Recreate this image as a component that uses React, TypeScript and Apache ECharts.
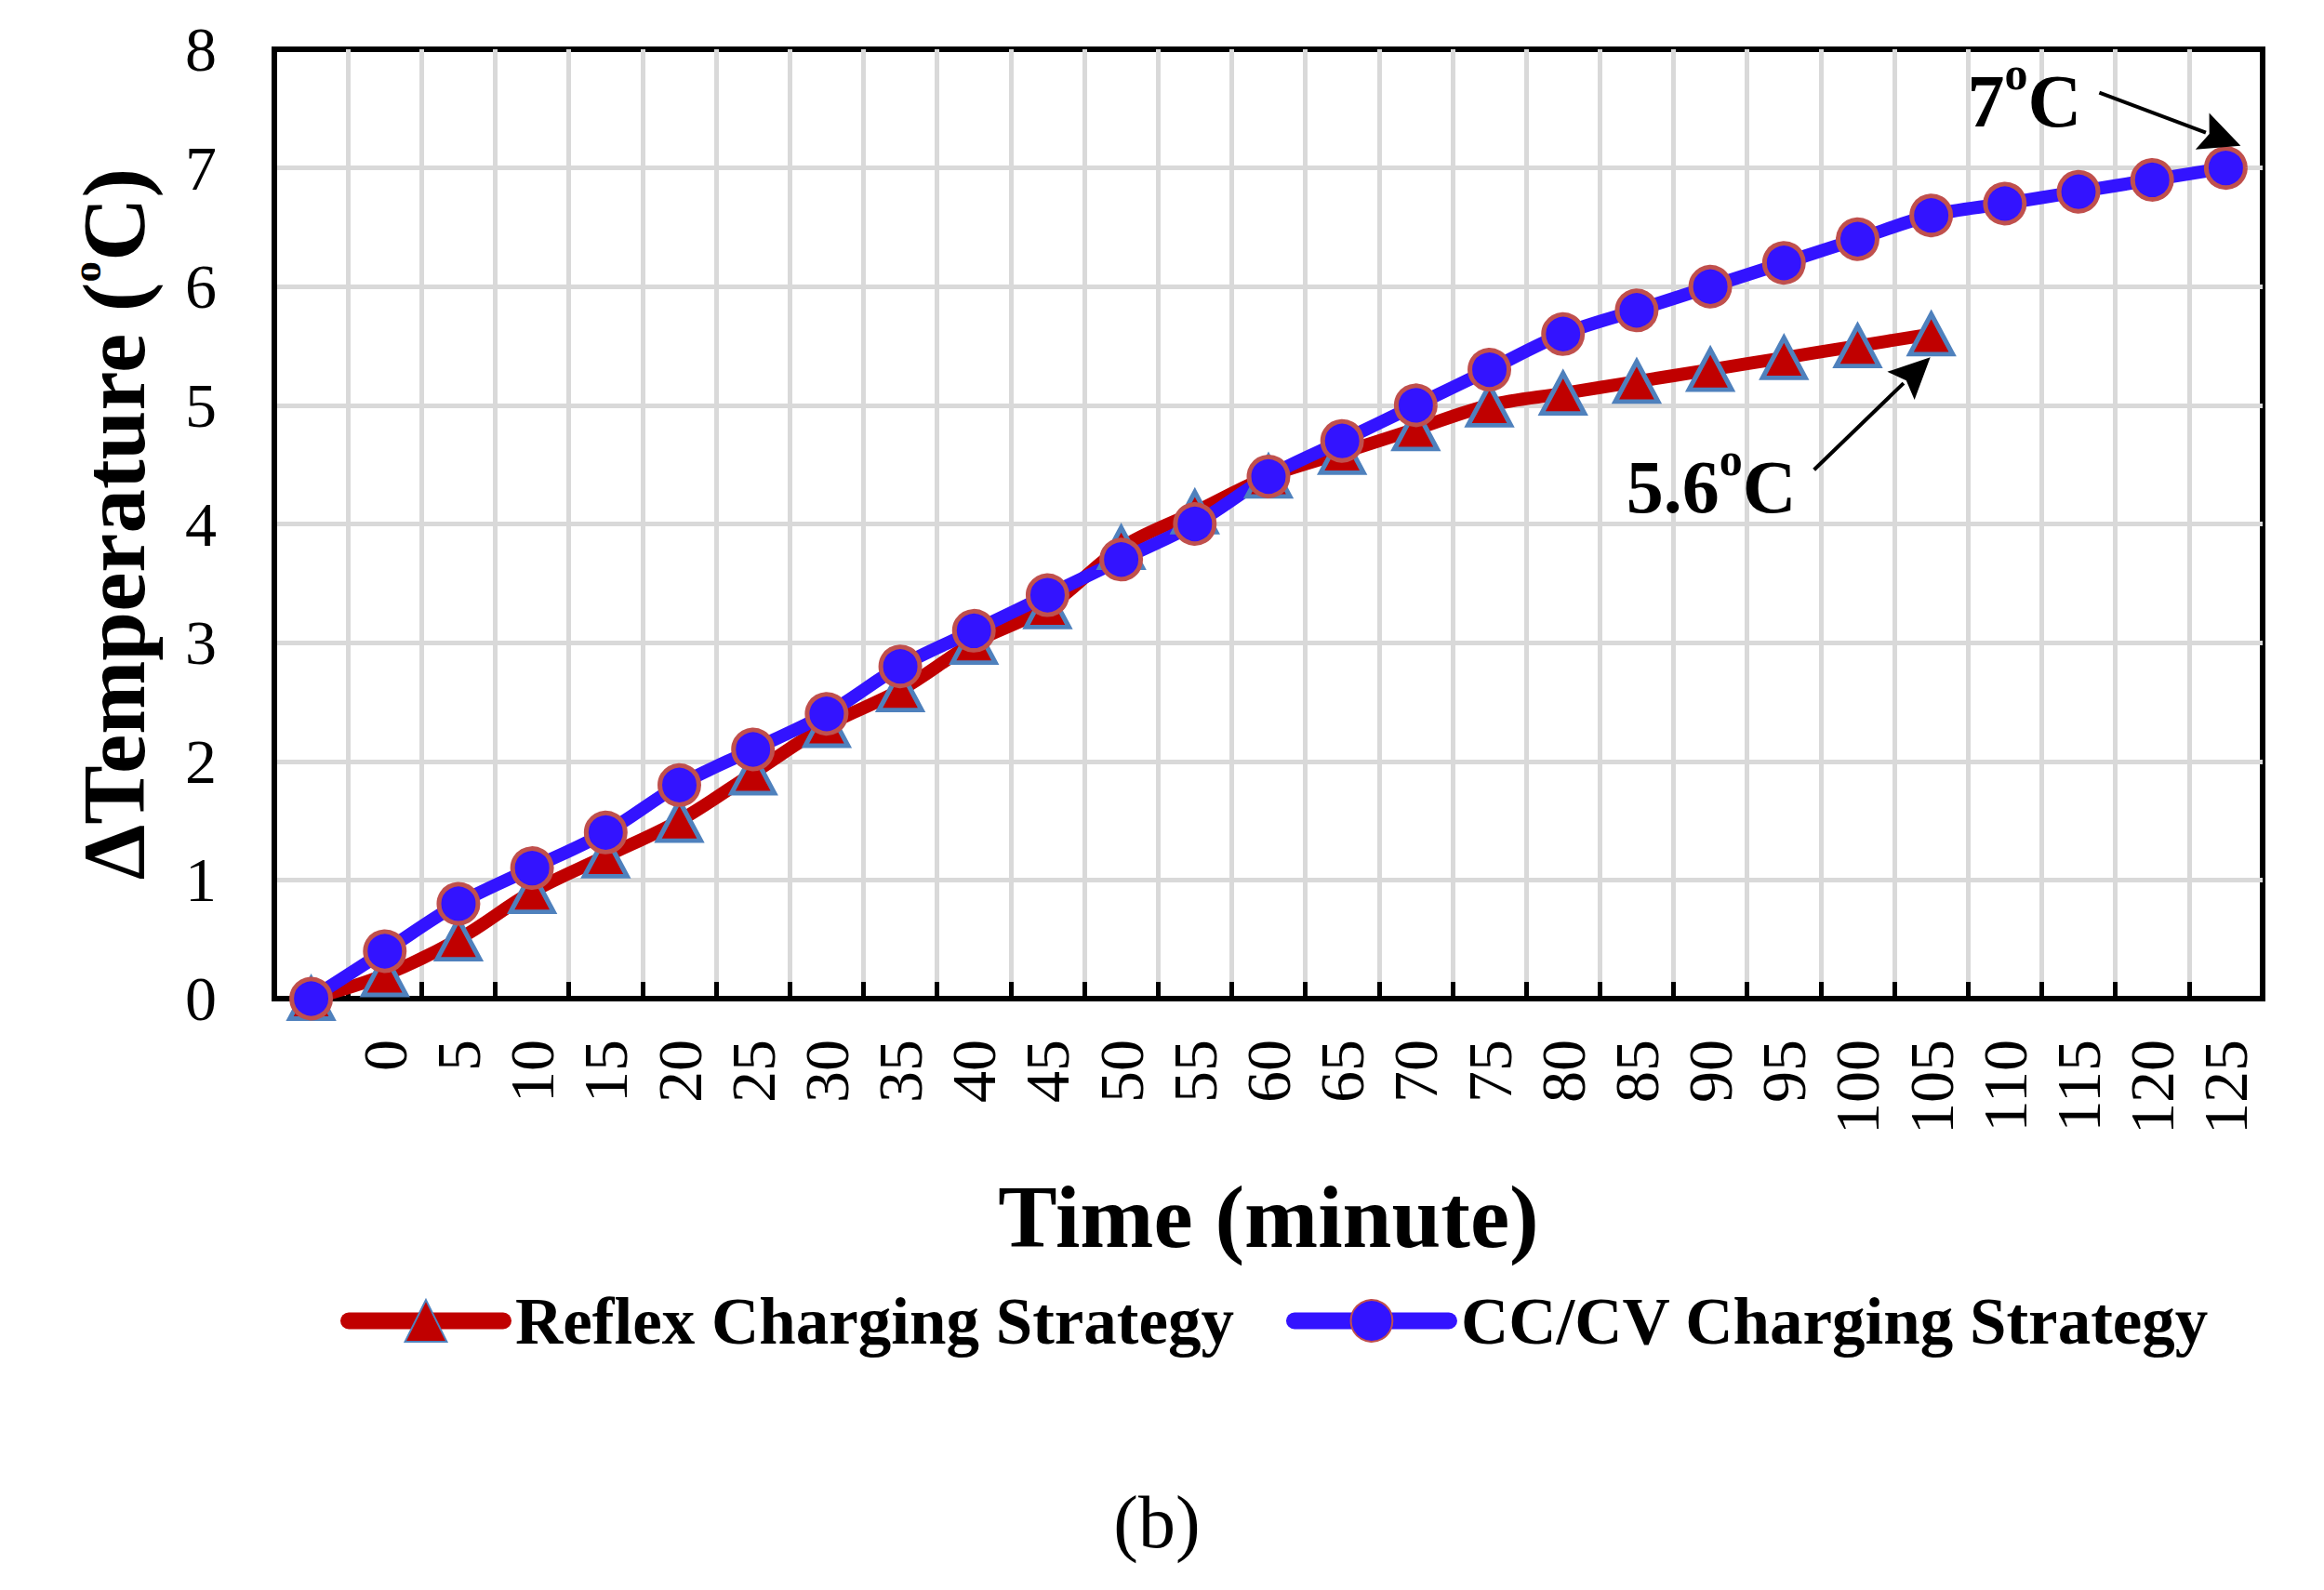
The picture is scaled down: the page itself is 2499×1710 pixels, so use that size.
import React, { useEffect, useRef } from "react";
import * as echarts from "echarts";

const timeLabels = ["", "0", "5", "10", "15", "20", "25", "30", "35", "40", "45", "50", "55", "60", "65", "70", "75", "80", "85", "90", "95", "100", "105", "110", "115", "120", "125"];
const reflexValues = [0, 0.2, 0.5, 0.9, 1.2, 1.5, 1.9, 2.3, 2.6, 3.0, 3.3, 3.8, 4.1, 4.4, 4.6, 4.8, 5.0, 5.1, 5.2, 5.3, 5.4, 5.5, 5.6];
const ccCvValues = [0, 0.4, 0.8, 1.1, 1.4, 1.8, 2.1, 2.4, 2.8, 3.1, 3.4, 3.7, 4.0, 4.4, 4.7, 5.0, 5.3, 5.6, 5.8, 6.0, 6.2, 6.4, 6.6, 6.7, 6.8, 6.9, 7.0];
const yMin = 0;
const yMax = 8;
const yStep = 1;
const seriesNames = ["Reflex Charging Strategy", "CC/CV Charging Strategy"];

const FONT = "'Liberation Serif', 'Times New Roman', serif";

function arrow(tail: number[], tip: number[], headLen: number, headHalf: number) {
  const dx = tip[0] - tail[0];
  const dy = tip[1] - tail[1];
  const len = Math.sqrt(dx * dx + dy * dy);
  const ux = dx / len;
  const uy = dy / len;
  const bx = tip[0] - ux * headLen;
  const by = tip[1] - uy * headLen;
  return [
    {
      type: "line",
      shape: { x1: tail[0], y1: tail[1], x2: bx + ux * 4, y2: by + uy * 4 },
      style: { stroke: "#000", lineWidth: 4 },
      z: 100,
    },
    {
      type: "polygon",
      shape: {
        points: [
          [tip[0], tip[1]],
          [bx - uy * headHalf, by + ux * headHalf],
          [bx + ux * 8, by + uy * 8],
          [bx + uy * headHalf, by - ux * headHalf],
        ],
      },
      style: { fill: "#000" },
      z: 100,
    },
  ];
}

function supText(parts: string, x: number, y: number) {
  return {
    type: "text",
    x,
    y,
    z: 100,
    style: {
      text: parts,
      align: "left",
      verticalAlign: "middle",
      fill: "#000",
      rich: {
        a: { fontFamily: FONT, fontWeight: "bold", fontSize: 80, lineHeight: 110, fill: "#000" },
        s: { fontFamily: FONT, fontWeight: "bold", fontSize: 50, lineHeight: 50, verticalAlign: "top", fill: "#000" },
      },
    },
  };
}

export default function App() {
  const ref = useRef<HTMLDivElement>(null);
  useEffect(() => {
    document.body.style.margin = "0";
    const chart = echarts.init(ref.current!, undefined, { renderer: "svg" });
    chart.setOption({
      animation: false,
      backgroundColor: "#fff",
      textStyle: { fontFamily: FONT },
      grid: {
        left: 295,
        right: 66,
        top: 53,
        bottom: 636,
        show: true,
        borderColor: "#000",
        borderWidth: 6,
        backgroundColor: "transparent",
      },
      legend: {
        left: 361,
        top: 1380,
        itemWidth: 166,
        itemHeight: 56,
        itemGap: 56,
        textStyle: { fontFamily: FONT, fontWeight: "bold", fontSize: 71, color: "#000", lineHeight: 56, padding: [0, 0, 0, 8] },
        lineStyle: { width: 18, cap: "round" },
        data: seriesNames,
      },
      xAxis: {
        type: "category",
        data: timeLabels,
        boundaryGap: true,
        name: "Time (minute)",
        nameLocation: "middle",
        nameGap: 187,
        nameTextStyle: { fontFamily: FONT, fontWeight: "bold", fontSize: 95, color: "#000" },
        axisLine: { lineStyle: { color: "#000", width: 6 } },
        axisTick: { show: true, inside: true, length: 18, interval: 0, lineStyle: { color: "#000", width: 5 } },
        axisLabel: { rotate: 90, interval: 0, margin: 44, fontFamily: FONT, fontSize: 68, color: "#000" },
        splitLine: { show: true, interval: 0, showMinLine: false, showMaxLine: false, lineStyle: { color: "#D9D9D9", width: 5 } },
      },
      yAxis: {
        type: "value",
        min: yMin,
        max: yMax,
        interval: yStep,
        name: "{a|ΔTemperature (}{s|o}{a|C)}",
        nameLocation: "middle",
        nameGap: 120,
        nameTextStyle: {
          rich: {
            a: { fontFamily: FONT, fontWeight: "bold", fontSize: 95, lineHeight: 105, color: "#000" },
            s: { fontFamily: FONT, fontWeight: "bold", fontSize: 45, lineHeight: 45, verticalAlign: "top", color: "#000" },
          },
        },
        axisLine: { show: true, lineStyle: { color: "#000", width: 6 } },
        axisTick: { show: false },
        axisLabel: { margin: 62, fontFamily: FONT, fontSize: 68, color: "#000" },
        splitLine: { show: true, showMinLine: false, showMaxLine: false, lineStyle: { color: "#D9D9D9", width: 5 } },
      },
      series: [
        {
          name: seriesNames[0],
          type: "line",
          data: reflexValues,
          smooth: 0.35,
          symbol: "triangle",
          symbolSize: [46, 43],
          lineStyle: { color: "#C00000", width: 14 },
          itemStyle: { color: "#C00000", borderColor: "#4F81BD", borderWidth: 5 },
        },
        {
          name: seriesNames[1],
          type: "line",
          data: ccCvValues,
          smooth: 0.35,
          symbol: "circle",
          symbolSize: 42,
          lineStyle: { color: "#3313FF", width: 14 },
          itemStyle: { color: "#3313FF", borderColor: "#C0504D", borderWidth: 5 },
        },
      ],
    });

    const lastCc = ccCvValues.length - 1;
    const lastRf = reflexValues.length - 1;
    const p7 = chart.convertToPixel({ gridIndex: 0 }, [lastCc, ccCvValues[lastCc]]) as number[];
    const p56 = chart.convertToPixel({ gridIndex: 0 }, [lastRf, reflexValues[lastRf]]) as number[];

    chart.setOption({
      graphic: [
        ...arrow([p7[0] - 136, p7[1] - 81], [p7[0] + 16, p7[1] - 24], 44, 21),
        ...arrow([p56[0] - 126, p56[1] + 146], [p56[0] - 1, p56[1] + 25], 44, 21),
        supText("{a|7}{s|o}{a|C}", p7[0] - 278, p7[1] - 72),
        supText("{a|5.6}{s|o}{a|C}", p56[0] - 328, p56[1] + 165),
        {
          type: "text",
          x: 1244,
          y: 1637,
          style: {
            text: "(b)",
            align: "center",
            verticalAlign: "middle",
            fontFamily: FONT,
            fontSize: 80,
            fill: "#000",
          },
        },
      ],
    });

    return () => chart.dispose();
  }, []);
  return <div ref={ref} style={{ width: 2499, height: 1710 }} />;
}
